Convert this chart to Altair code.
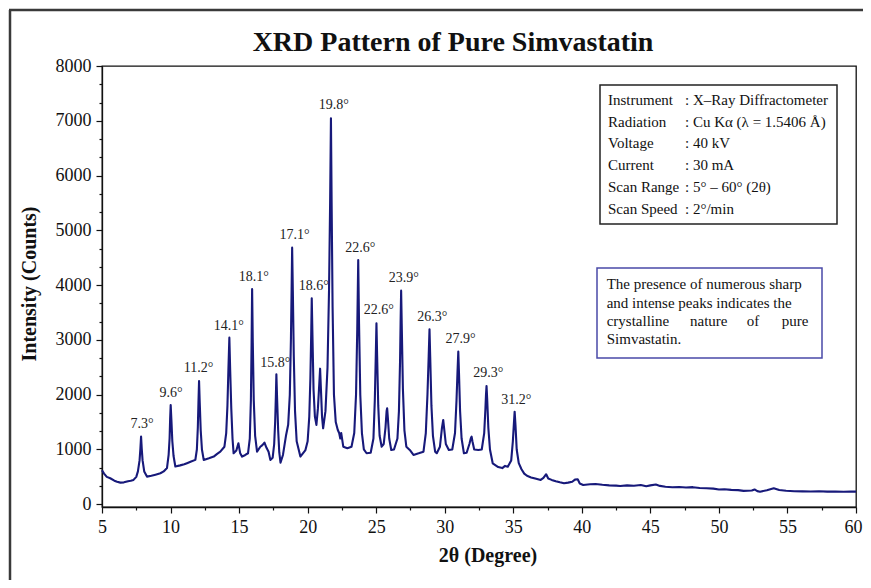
import altair as alt
import pandas as pd

# ---------------- data ----------------
TWO_THETA = [
    5.00, 5.15, 5.35, 5.60, 5.90, 6.10, 6.34, 6.60, 6.90, 7.10, 7.30, 7.50, 7.62, 7.74, 7.80, 7.85,
    7.90, 7.96, 8.08, 8.28, 8.60, 8.90, 9.26, 9.50, 9.74, 9.86, 9.93, 9.97, 10.01, 10.06, 10.13,
    10.22, 10.35, 10.70, 11.00, 11.20, 11.50, 11.81, 11.92, 11.99, 12.04, 12.08, 12.13, 12.20,
    12.29, 12.42, 12.80, 13.15, 13.40, 13.63, 13.93, 14.06, 14.15, 14.22, 14.29, 14.35, 14.43,
    14.52, 14.60, 14.80, 14.95, 15.08, 15.22, 15.45, 15.65, 15.78, 15.86, 15.91, 15.95, 16.00,
    16.07, 16.17, 16.31, 16.55, 16.70, 16.85, 17.00, 17.15, 17.28, 17.45, 17.56, 17.63, 17.68,
    17.72, 17.77, 17.85, 17.93, 18.02, 18.20, 18.43, 18.58, 18.70, 18.78, 18.83, 18.87, 18.92,
    18.99, 19.08, 19.20, 19.47, 19.84, 20.00, 20.12, 20.20, 20.26, 20.30, 20.35, 20.43, 20.53,
    20.64, 20.75, 20.85, 20.91, 20.97, 21.05, 21.13, 21.30, 21.45, 21.56, 21.64, 21.70, 21.75,
    21.82, 21.92, 22.05, 22.20, 22.30, 22.38, 22.45, 22.60, 22.90, 23.20, 23.40, 23.53, 23.62,
    23.69, 23.75, 23.84, 23.96, 24.10, 24.30, 24.60, 24.80, 24.90, 24.97, 25.02, 25.07, 25.15,
    25.25, 25.40, 25.55, 25.68, 25.76, 25.80, 25.86, 25.95, 26.10, 26.30, 26.55, 26.66, 26.74,
    26.78, 26.82, 26.87, 26.95, 27.06, 27.20, 27.45, 27.72, 28.10, 28.45, 28.62, 28.74, 28.83,
    28.89, 28.94, 29.03, 29.14, 29.30, 29.42, 29.65, 29.80, 29.89, 29.95, 30.08, 30.30, 30.55,
    30.75, 30.86, 30.93, 30.99, 31.04, 31.12, 31.23, 31.40, 31.60, 31.80, 31.90, 31.96, 32.02,
    32.15, 32.45, 32.70, 32.88, 32.97, 33.01, 33.05, 33.10, 33.18, 33.30, 33.50, 33.90, 34.20,
    34.40, 34.60, 34.85, 34.97, 35.04, 35.10, 35.16, 35.25, 35.40, 35.60, 35.80, 36.00, 36.30,
    36.60, 37.00, 37.20, 37.40, 37.55, 37.80, 38.10, 38.40, 38.70, 39.00, 39.30, 39.50, 39.70,
    39.85, 40.10, 40.60, 41.00, 41.50, 42.00, 42.50, 42.80, 43.30, 43.80, 44.30, 44.70, 45.00,
    45.40, 45.70, 46.10, 46.60, 47.10, 47.60, 48.10, 48.60, 49.10, 49.60, 50.00, 50.40, 50.90,
    51.40, 51.80, 52.40, 52.60, 52.80, 53.00, 53.50, 54.00, 54.40, 54.90, 55.50, 56.10, 56.70,
    57.30, 57.90, 58.50, 59.10, 59.60, 60.00,
]
INTENSITY = [
    620, 560, 500, 475, 430, 410, 395, 400, 420, 430, 445, 500, 600, 800, 1010, 1234,
    1010, 800, 600, 505, 520, 540, 566, 600, 660, 900, 1200, 1550, 1813, 1550, 1150,
    880, 690, 710, 730, 750, 780, 810, 1000, 1400, 1900, 2251, 1850, 1350,
    1000, 810, 840, 870, 920, 960, 1050, 1300, 1800, 2450, 3041, 2450, 1750,
    1200, 930, 980, 1113, 930, 870, 900, 931, 1200, 1900, 2900, 3930, 2950,
    1900, 1250, 960, 1050, 1080, 1125, 1030, 960, 810, 850, 1100, 1500, 1950,
    2373, 1950, 1350, 950, 760, 900, 1265, 1450, 2000, 3000, 3900, 4684, 3900,
    2700, 1700, 1150, 870, 990, 1150, 1600, 2300, 3100, 3760, 3100, 2100, 1600,
    1448, 1750, 2200, 2475, 2100, 1600, 1387, 1700, 2500, 3900, 5500, 7046, 5500,
    3600, 2000, 1500, 1356, 1300, 1200, 1300, 1051, 1022, 1050, 1300, 2000, 3200,
    4460, 3300, 2000, 1300, 1000, 931, 940, 1200, 1900, 2700, 3304, 2700, 1800,
    1250, 1051, 1100, 1400, 1700, 1752, 1550, 1200, 991, 1000, 1200, 1700, 2600,
    3300, 3899, 3200, 2100, 1350, 1050, 991, 900, 930, 960, 1300, 2000, 2700,
    3195, 2700, 1800, 1250, 960, 931, 1050, 1400, 1539, 1400, 1100, 991, 1000,
    1300, 1900, 2400, 2786, 2400, 1700, 1200, 931, 940, 1100, 1200, 1234, 1150,
    1000, 991, 1000, 1300, 1750, 2000, 2160, 1900, 1400, 1000, 748, 680, 660,
    700, 686, 800, 1150, 1450, 1690, 1450, 1000, 750, 640, 560, 520, 490,
    470, 444, 480, 548, 470, 445, 420, 400, 383, 395, 410, 450, 456,
    380, 352, 365, 371, 355, 345, 340, 334, 345, 338, 352, 330, 345,
    360, 335, 320, 310, 315, 305, 312, 298, 292, 285, 270, 275, 262,
    258, 245, 250, 270, 240, 230, 255, 292, 260, 248, 238, 235, 232,
    238, 230, 233, 228, 232, 230,
]

PEAK_TEXT = ["7.3°", "9.6°", "11.2°", "14.1°", "18.1°", "15.8°", "17.1°", "18.6°",
             "19.8°", "22.6°", "22.6°", "23.9°", "26.3°", "27.9°", "29.3°", "31.2°"]
PEAK_TEXT_X = [7.92, 10.04, 12.05, 14.24, 16.07, 17.65, 19.04, 20.45,
               21.91, 23.85, 25.19, 27.01, 29.09, 31.15, 33.18, 35.22]
PEAK_TEXT_Y = [1466, 2026, 2483, 3260, 4144, 2585, 4916, 3985,
               7289, 4684, 3547, 4126, 3414, 3012, 2391, 1904]

INFO_KEYS = ["Instrument", "Radiation", "Voltage", "Current", "Scan Range", "Scan Speed"]
INFO_VALUES = [": X\u2013Ray Diffractometer", ": Cu K\u03b1 (\u03bb = 1.5406 \u00c5)", ": 40 kV",
               ": 30 mA", ": 5\u00b0 \u2013 60\u00b0 (2\u03b8)", ": 2\u00b0/min"]

NOTE_LINES = ["The presence of numerous sharp", "and intense peaks indicates the",
              None, "Simvastatin."]
NOTE_LINE3_WORDS = ["crystalline", "nature", "of", "pure"]

X_MAJOR = [5, 10, 15, 20, 25, 30, 35, 40, 45, 50, 55, 60]
X_MINOR = [7.5, 12.5, 17.5, 22.5, 27.5, 32.5, 37.5, 42.5, 47.5, 52.5, 57.5]
Y_MAJOR = [0, 1000, 2000, 3000, 4000, 5000, 6000, 7000, 8000]
Y_MINOR = [333.3, 666.7, 1333.3, 1666.7, 2333.3, 2666.7, 3333.3, 3666.7, 4333.3, 4666.7,
           5333.3, 5666.7, 6333.3, 6666.7, 7333.3, 7666.7]

TITLE = "XRD Pattern of Pure Simvastatin"
X_TITLE = "2\u03b8 (Degree)"
Y_TITLE = "Intensity (Counts)"

# ---------------- styling ----------------
FONT = "Liberation Serif"
LINE_COLOR = "#17197a"
W, H = 754, 441

line_df = pd.DataFrame({"theta": TWO_THETA, "counts": INTENSITY})
lab_df = pd.DataFrame({"theta": PEAK_TEXT_X, "counts": PEAK_TEXT_Y, "txt": PEAK_TEXT})
one = pd.DataFrame({"k": [0]})

x_scale = alt.Scale(domain=[5, 60], nice=False, zero=False)
y_scale = alt.Scale(domain=[-50, 8000], nice=False, zero=False)

x_axis = alt.Axis(
    values=sorted(X_MAJOR + X_MINOR), format="d", title=None, grid=False,
    labelExpr="datum.value % 5 === 0 ? datum.label : ''",
    tickSize={"condition": {"test": "datum.value % 5 === 0", "value": 6}, "value": 3},
    labelOffset={"condition": {"test": "datum.value === 60", "value": -3}, "value": 0},
    labelFont=FONT, labelFontSize=18, labelColor="#111", labelPadding=5,
    labelFlush=False, labelOverlap=False, domainColor="#111", tickColor="#111",
    domainWidth=1.3, tickWidth=1.2,
)
y_axis = alt.Axis(
    values=sorted(Y_MAJOR + Y_MINOR), format="d", title=None, grid=False,
    labelExpr="datum.value % 1000 === 0 ? datum.label : ''",
    tickSize={"condition": {"test": "datum.value % 1000 === 0", "value": 6}, "value": 3},
    labelFont=FONT, labelFontSize=18, labelColor="#111", labelPadding=5,
    labelFlush=False, labelOverlap=False, domainColor="#111", tickColor="#111",
    domainWidth=1.3, tickWidth=1.2,
)

line = alt.Chart(line_df).mark_line(color=LINE_COLOR, strokeWidth=2.1, strokeJoin="round").encode(
    x=alt.X("theta:Q", scale=x_scale, axis=x_axis),
    y=alt.Y("counts:Q", scale=y_scale, axis=y_axis),
)

peak_labels = alt.Chart(lab_df).mark_text(font=FONT, fontSize=14, color="#222", baseline="middle").encode(
    x=alt.X("theta:Q", scale=x_scale, axis=x_axis),
    y=alt.Y("counts:Q", scale=y_scale, axis=y_axis),
    text="txt:N",
)


def txt(s, x, y, size=15, weight="normal", align="left", angle=0):
    kw = dict(font=FONT, fontSize=size, fontWeight=weight, color="#111",
              baseline="middle", align=align)
    if angle:
        kw["angle"] = angle
    return alt.Chart(one).mark_text(**kw).encode(
        x=alt.value(x), y=alt.value(y), text=alt.value(s))


layers = []
# outer frame (left and top edges visible)
layers.append(alt.Chart(one).mark_rule(color="#3a3a3a", strokeWidth=2.5).encode(
    x=alt.value(-92), y=alt.value(-56), y2=alt.value(620)))
layers.append(alt.Chart(one).mark_rule(color="#3a3a3a", strokeWidth=2.5).encode(
    x=alt.value(-93), x2=alt.value(800), y=alt.value(-56)))
layers += [line, peak_labels]
layers.append(txt(TITLE, 351, -23, size=28, weight="bold", align="center"))
layers.append(txt(X_TITLE, 386, 490, size=20, weight="bold", align="center"))
layers.append(txt(Y_TITLE, -72, 218, size=20, weight="bold", align="center", angle=270))

# instrument info box
layers.append(alt.Chart(one).mark_rect(fill="white", stroke="#222", strokeWidth=1.5).encode(
    x=alt.value(498), x2=alt.value(735), y=alt.value(19), y2=alt.value(158)))
for i, (k, v) in enumerate(zip(INFO_KEYS, INFO_VALUES)):
    layers.append(txt(k, 506, 34 + 21.7 * i))
    layers.append(txt(v, 583, 34 + 21.7 * i))

# note box
layers.append(alt.Chart(one).mark_rect(fill="white", stroke="#4a4aa8", strokeWidth=1.5).encode(
    x=alt.value(495), x2=alt.value(720), y=alt.value(202), y2=alt.value(292)))
for i, t in enumerate(NOTE_LINES):
    if t is not None:
        layers.append(txt(t, 504.7, 218.3 + 18.35 * i))
for w, px in zip(NOTE_LINE3_WORDS, [504.7, 588, 644.7, 679.7]):
    layers.append(txt(w, px, 218.3 + 18.35 * 2))

chart = alt.layer(*layers).properties(
    width=W, height=H,
    autosize=alt.AutoSizeParams(type="none"),
    padding={"left": 94, "top": 58, "right": 7, "bottom": 73},
    background="white",
).configure_view(
    stroke="#111", strokeWidth=1.3
).configure_axis(
    labelFont=FONT, labelFontSize=18, labelColor="#111"
)

chart.save("out.html", embed_options={"renderer": "svg", "actions": False})
